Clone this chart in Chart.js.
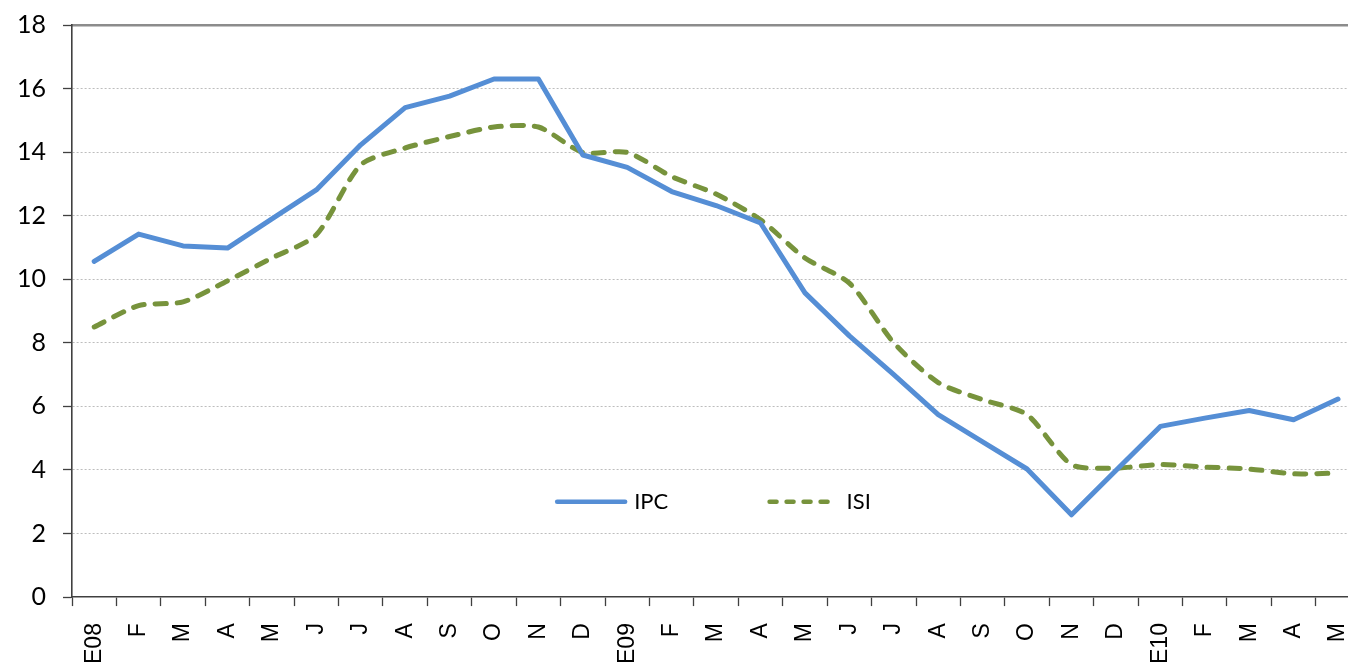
<!DOCTYPE html>
<html lang="es">
<head>
<meta charset="utf-8">
<title>IPC / ISI</title>
<script src="https://cdn.jsdelivr.net/npm/chart.js@4.4.1/dist/chart.umd.min.js"></script>
<style>
  html, body { margin: 0; padding: 0; background: #fff; overflow: hidden; }
  .frame { position: relative; width: 1348px; height: 668px; overflow: hidden; }
  /* el área de trazado sigue un poco más allá del borde derecho */
  .wrap { position: absolute; left: 0; top: -7px; width: 1383px; height: 688px; }
</style>
</head>
<body>
<div class="frame"><div class="wrap"><canvas id="ipcChart"></canvas></div></div>
<script>
// meses, ene-2008 .. may-2010
const MONTHS = ['E08', 'F', 'M', 'A', 'M', 'J', 'J', 'A', 'S', 'O', 'N', 'D',
                'E09', 'F', 'M', 'A', 'M', 'J', 'J', 'A', 'S', 'O', 'N', 'D',
                'E10', 'F', 'M', 'A', 'M'];

const IPC = [10.56, 11.42, 11.05, 10.98, 11.9, 12.81, 14.23, 15.4, 15.76, 16.3, 16.3, 13.91,
             13.52, 12.76, 12.32, 11.77, 9.57, 8.22, 7.0, 5.74, 4.88, 4.03, 2.59, 3.98,
             5.37, 5.63, 5.87, 5.58, 6.23];

const ISI = [8.5, 9.17, 9.29, 9.95, 10.67, 11.4, 13.6, 14.13, 14.49, 14.79, 14.79, 13.99,
             13.99, 13.23, 12.68, 11.87, 10.67, 9.88, 8.0, 6.75, 6.21, 5.74, 4.17, 4.06,
             4.17, 4.09, 4.03, 3.88, 3.9];

const Y_MIN = 0, Y_MAX = 18, Y_STEP = 2;

const BLUE = '#558ed5';
const GREEN = '#77933c';
const AXIS = '#404040';

// leyenda dentro del área del gráfico, a media altura baja
const innerLegend = {
  id: 'innerLegend',
  afterDatasetsDraw(chart) {
    const { ctx, chartArea: a } = chart;
    const y = a.top + (a.bottom - a.top) * 0.8335;
    const items = [
      { ds: chart.data.datasets[0], x: a.left + (a.right - a.left) * 0.3766, dash: [] },
      { ds: chart.data.datasets[1], x: a.left + (a.right - a.left) * 0.5415, dash: [7, 10] },
    ];
    ctx.save();
    ctx.font = '22px Lato, "Open Sans", sans-serif';
    ctx.textBaseline = 'middle';
    items.forEach(it => {
      ctx.beginPath();
      ctx.strokeStyle = it.ds.borderColor;
      ctx.lineWidth = 4.5;
      ctx.lineCap = 'round';
      ctx.setLineDash(it.dash);
      ctx.moveTo(it.x, y);
      ctx.lineTo(it.x + 68, y);
      ctx.stroke();
      ctx.setLineDash([]);
      ctx.fillStyle = '#000';
      ctx.fillText(it.ds.label, it.x + 77, y);
    });
    ctx.restore();
  },
};

new Chart(document.getElementById('ipcChart').getContext('2d'), {
  type: 'line',
  data: {
    labels: MONTHS,
    datasets: [
      {
        label: 'IPC',
        data: IPC,
        borderColor: BLUE,
        borderWidth: 5,
        pointRadius: 0,
        tension: 0,
        borderJoinStyle: 'round',
        borderCapStyle: 'round',
      },
      {
        label: 'ISI',
        data: ISI,
        borderColor: GREEN,
        borderWidth: 5,
        borderDash: [11, 11],
        borderCapStyle: 'round',
        borderJoinStyle: 'round',
        pointRadius: 0,
        tension: 0.25,
      },
    ],
  },
  options: {
    responsive: true,
    maintainAspectRatio: false,
    animation: false,
    layout: { padding: { top: 9, left: 0, right: 0, bottom: 0 } },
    plugins: {
      legend: { display: false },
      tooltip: { enabled: false },
    },
    scales: {
      x: {
        type: 'category',
        offset: true,
        grid: {
          offset: true,
          drawOnChartArea: false,
          drawTicks: true,
          tickLength: 9,
          tickColor: AXIS,
          tickWidth: 1.3,
        },
        border: { color: AXIS, width: 1.6 },
        ticks: {
          autoSkip: false,
          maxRotation: 90,
          minRotation: 90,
          padding: 17,
          color: '#000',
          font: { family: '"Liberation Sans", Arial, sans-serif', size: 23 },
        },
      },
      xTop: {
        type: 'category',
        position: 'top',
        offset: true,
        grid: { display: false, drawTicks: false },
        ticks: { display: false },
        border: { color: '#8c8c8c', width: 2.5 },
      },
      y: {
        min: Y_MIN,
        max: Y_MAX,
        grid: {
          color: c => (c.tick && (c.tick.value === Y_MIN || c.tick.value === Y_MAX)) ? 'rgba(0,0,0,0)' : '#bdbdbd',
          lineWidth: 1,
          drawTicks: true,
          tickLength: 9,
          tickColor: AXIS,
          tickWidth: 1.3,
          tickBorderDash: [],
        },
        border: { color: AXIS, width: 1.6, dash: [2, 2] },
        ticks: {
          stepSize: Y_STEP,
          padding: 17,
          color: '#000',
          font: { family: 'Lato, "Open Sans", sans-serif', size: 25 },
        },
      },
    },
  },
  plugins: [innerLegend],
});
</script>
</body>
</html>
